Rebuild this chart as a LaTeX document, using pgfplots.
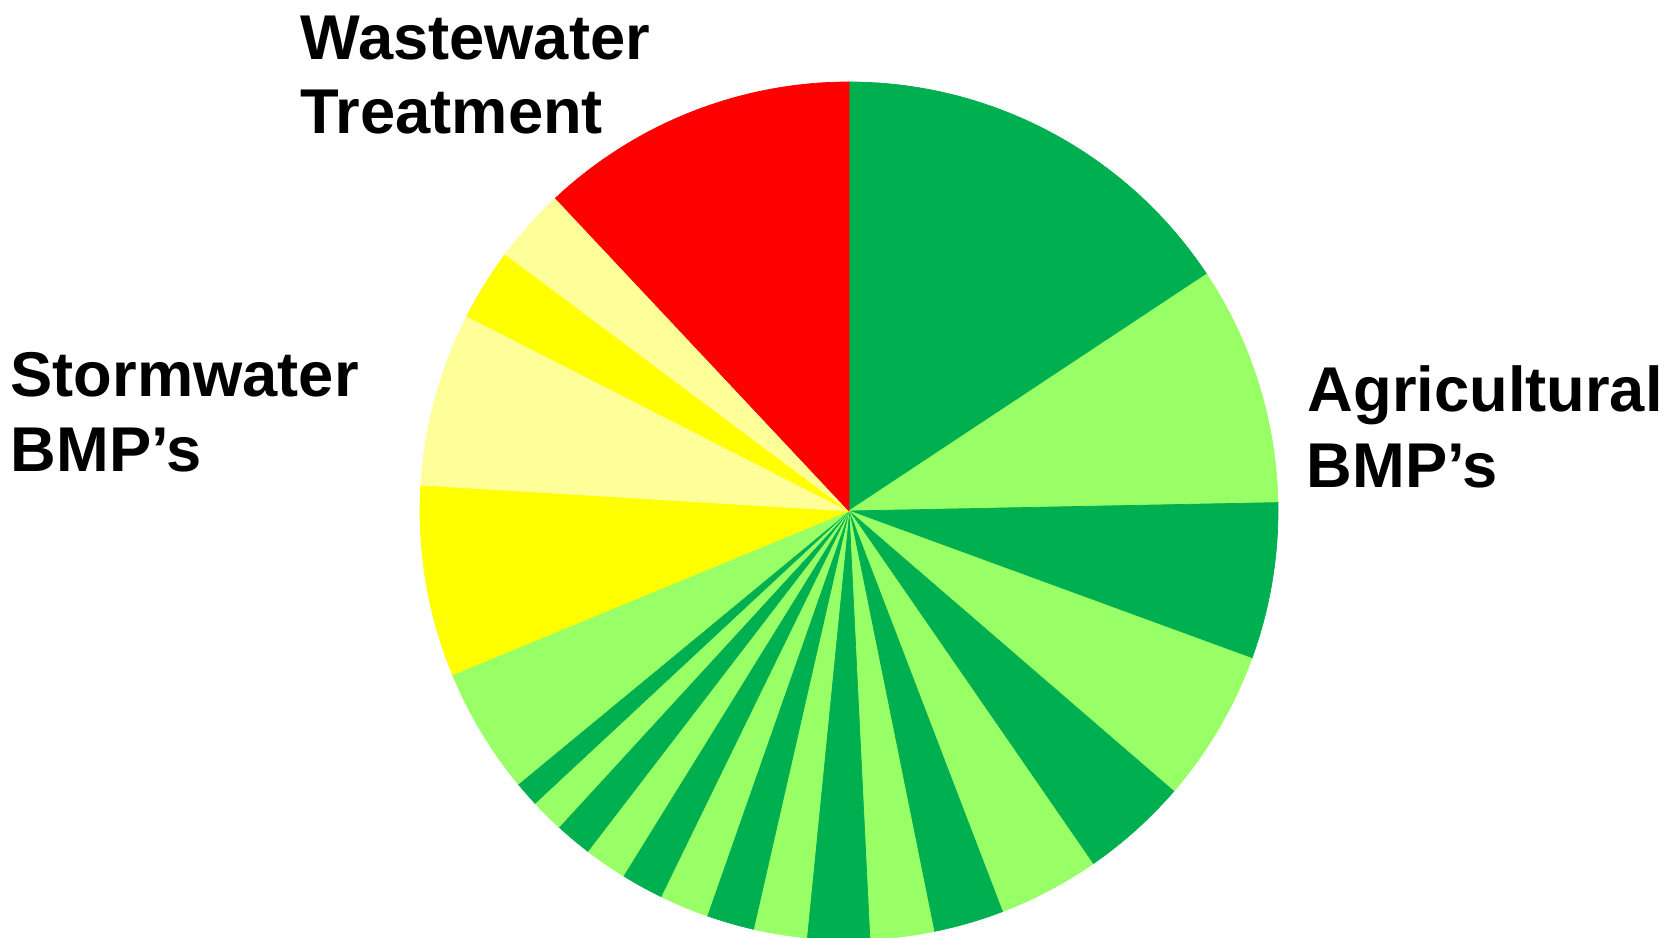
\documentclass[border=0pt]{standalone}
\usepackage{pgfplots}
\pgfplotsset{compat=1.18}
\usepackage{pgfplotstable}
\usepackage{fontspec}
\setmainfont{Liberation Sans}

\definecolor{dkgreen}{HTML}{00B050}
\definecolor{ltgreen}{HTML}{99FF66}
\definecolor{yel}{HTML}{FFFF00}
\definecolor{paleyel}{HTML}{FFFF99}
\definecolor{wwred}{HTML}{FF0000}

% slice shares (percent), clockwise from 12 o'clock
\pgfplotstableread{
share col
15.70 dkgreen
9.00  ltgreen
5.90  dkgreen
5.75  ltgreen
4.05  dkgreen
3.80  ltgreen
2.65  dkgreen
2.40  ltgreen
2.35  dkgreen
2.00  ltgreen
1.80  dkgreen
1.85  ltgreen
1.60  dkgreen
1.60  ltgreen
1.40  dkgreen
1.25  ltgreen
0.95  dkgreen
4.75  ltgreen
7.20  yel
6.55  paleyel
2.70  yel
2.80  paleyel
12.00 wwred
}\slices

\begin{document}
\begin{tikzpicture}
\pgfplotstablegetrowsof{\slices}
\pgfmathtruncatemacro\nlast{\pgfplotsretval-1}
\def\total{0}
\pgfplotsforeachungrouped \k in {0,...,\nlast}{%
  \pgfplotstablegetelem{\k}{share}\of\slices
  \pgfmathsetmacro\total{\total+\pgfplotsretval}%
}
\begin{axis}[
    x=0.1mm, y=0.1mm,
    xmin=0, xmax=1667, ymin=0, ymax=938,
    hide axis,
]
\path (axis cs:0,0) rectangle (axis cs:1667,938);
\def\acc{90}
\pgfplotsforeachungrouped \k in {0,...,\nlast}{%
  \pgfplotstablegetelem{\k}{share}\of\slices
  \let\sliceval\pgfplotsretval
  \pgfplotstablegetelem{\k}{col}\of\slices
  \let\slicecol\pgfplotsretval
  \pgfmathsetmacro\aend{\acc-\sliceval*360/\total}%
  \edef\doit{\noexpand\fill[\slicecol, draw=\slicecol, line width=0.2pt]
    (axis cs:849,427) -- (axis cs:{849+429*cos(\acc)},{427+429*sin(\acc)})
    arc[start angle=\acc, end angle=\aend, radius=42.9mm] -- cycle;}%
  \doit
  \global\let\acc\aend
}
\tikzset{lbl/.style={anchor=base west, inner sep=0pt,
    font=\fontsize{18pt}{21pt}\selectfont\bfseries}}
\node[lbl] at (axis cs:300,878) {Wastewater};
\node[lbl] at (axis cs:300,804) {Treatment};
\node[lbl] at (axis cs:10,541) {Stormwater};
\node[lbl] at (axis cs:10,466) {BMP’s};
\node[lbl] at (axis cs:1307,526) {Agricultural};
\node[lbl] at (axis cs:1306,450) {BMP’s};
\end{axis}
\end{tikzpicture}
\end{document}
